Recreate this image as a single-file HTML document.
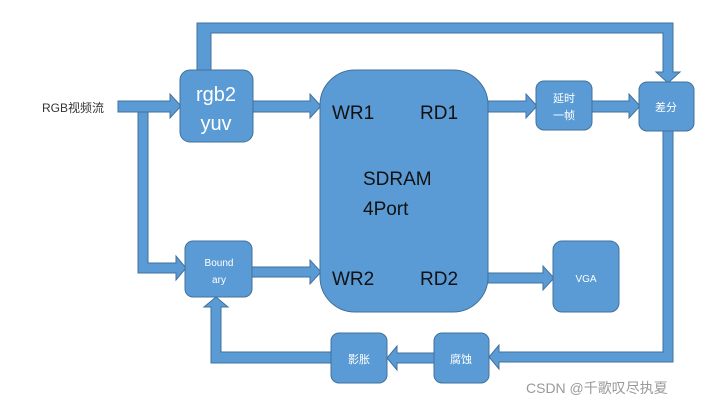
<!DOCTYPE html>
<html><head><meta charset="utf-8"><style>
html,body{margin:0;padding:0;background:#fff;}
svg{display:block;}
text{font-family:"Liberation Sans","Noto Sans CJK SC",sans-serif;}
</style></head><body>
<svg width="718" height="406" viewBox="0 0 718 406" xmlns="http://www.w3.org/2000/svg">
<g fill="#5b9bd5" stroke="#41719c" stroke-width="1">
<!-- top loop -->
<polygon points="197,72 197,23 673,23 673,72 680,72 668,83 656,72 663,72 663,33 211,33 211,72"/>
<!-- input arrow -->
<polygon points="118,101 170,101 170,94 181,106 170,118 170,112 118,112"/>
<!-- branch down to boundary -->
<polygon points="138,112 148,112 148,263 176,263 176,256 186,268 176,280 176,273 138,273"/>
<!-- rgb2 -> WR1 -->
<polygon points="253,101 310,101 310,94 321,106 310,118 310,112 253,112"/>
<!-- boundary -> WR2 -->
<polygon points="252,267 310,267 310,260 321,272 310,284 310,277 252,277"/>
<!-- RD1 -> delay -->
<polygon points="488,101 526,101 526,94 537,106 526,118 526,112 488,112"/>
<!-- delay -> diff -->
<polygon points="592,101 629,101 629,94 640,106 629,118 629,112 592,112"/>
<!-- RD2 -> VGA -->
<polygon points="488,273 543,273 543,266 554,278 543,290 543,283 488,283"/>
<!-- diff down and left to 腐蚀 -->
<polygon points="663,131 673,131 673,362 499,362 499,369 489,357 499,345 499,352 663,352"/>
<!-- 腐蚀 -> 影胀 -->
<polygon points="434,353 397,353 397,346 387,358 397,370 397,363 434,363"/>
<!-- 影胀 -> boundary -->
<polygon points="331,352 331,363 211,363 211,307 204,307 216,297 228,307 221,307 221,352"/>
<!-- boxes -->
<rect x="180" y="70" width="73" height="72" rx="10"/>
<rect x="185" y="241" width="67" height="56" rx="8"/>
<rect x="320" y="70" width="168" height="242" rx="35"/>
<rect x="536" y="81" width="56" height="49" rx="8"/>
<rect x="639" y="82" width="55" height="49" rx="8"/>
<rect x="553" y="241" width="66" height="71" rx="9"/>
<rect x="434" y="333" width="55" height="50" rx="8"/>
<rect x="331" y="333" width="56" height="50" rx="8"/>
</g>
<g fill="#fff">
<text x="216" y="101" font-size="20" text-anchor="middle">rgb2</text>
<text x="216" y="130" font-size="20" text-anchor="middle">yuv</text>
<text x="219" y="266" font-size="10" text-anchor="middle">Bound</text>
<text x="219" y="283" font-size="10" text-anchor="middle">ary</text>
<text x="564" y="102" font-size="11" text-anchor="middle">延时</text>
<text x="564" y="119" font-size="11" text-anchor="middle">一帧</text>
<text x="666" y="111" font-size="11" text-anchor="middle">差分</text>
<text x="586" y="282" font-size="10" text-anchor="middle">VGA</text>
<text x="461" y="363" font-size="11" text-anchor="middle">腐蚀</text>
<text x="359" y="363" font-size="11" text-anchor="middle">影胀</text>
</g>
<g fill="#111" font-size="19">
<text x="332" y="119">WR1</text>
<text x="420" y="119">RD1</text>
<text x="363" y="185">SDRAM</text>
<text x="363" y="215">4Port</text>
<text x="332" y="285">WR2</text>
<text x="420" y="285">RD2</text>
</g>
<text x="42" y="112" font-size="12" fill="#333">RGB视频流</text>
<text x="526" y="393" font-size="14" fill="#999">CSDN @千歌叹尽执夏</text>
</svg>
</body></html>
